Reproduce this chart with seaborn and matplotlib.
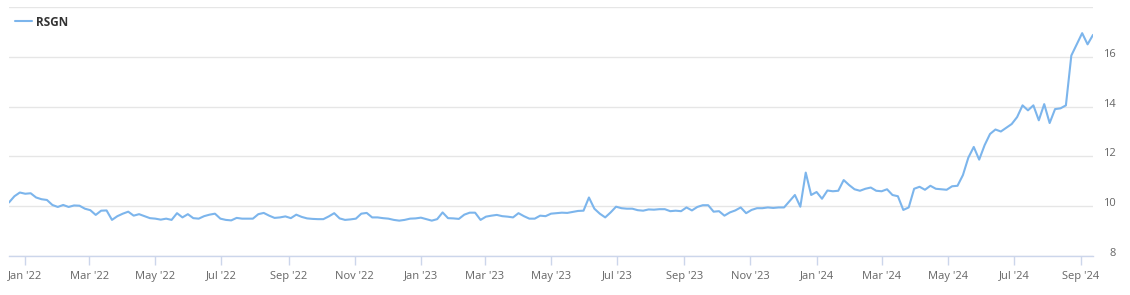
import numpy as np
import pandas as pd
import matplotlib
matplotlib.use("Agg")
import matplotlib.pyplot as plt
import matplotlib.dates as mdates
import matplotlib.transforms as mtransforms
import seaborn as sns

start_date = "2021-12-17"
step_days = 5
series_name = "RSGN"
prices = [
    10.15, 10.4, 10.55, 10.5, 10.52, 10.35, 10.28, 10.25, 10.05, 9.97,
    10.05, 9.97, 10.03, 10.02, 9.9, 9.84, 9.65, 9.82, 9.83, 9.45,
    9.6, 9.7, 9.78, 9.62, 9.68, 9.6, 9.52, 9.5, 9.46, 9.5,
    9.45, 9.72, 9.55, 9.68, 9.52, 9.5, 9.6, 9.66, 9.7, 9.5,
    9.45, 9.43, 9.53, 9.5, 9.5, 9.5, 9.68,
    9.73, 9.62, 9.53, 9.55, 9.59, 9.52, 9.66, 9.57, 9.51, 9.49,
    9.48, 9.48, 9.59, 9.72, 9.51, 9.45, 9.47, 9.5, 9.7, 9.73,
    9.55, 9.55, 9.52, 9.5, 9.45, 9.42, 9.45, 9.5, 9.51, 9.54,
    9.48, 9.42, 9.48, 9.75, 9.52, 9.51, 9.49, 9.66, 9.74, 9.74,
    9.45, 9.58, 9.62, 9.65, 9.6,
    9.58, 9.55, 9.72, 9.6, 9.5, 9.5, 9.62, 9.6, 9.7, 9.72,
    9.74, 9.73, 9.77, 9.81, 9.82, 10.35, 9.9, 9.7, 9.55, 9.75,
    9.98, 9.92, 9.9, 9.9, 9.84, 9.82, 9.87, 9.86, 9.88, 9.88,
    9.8, 9.82, 9.8, 9.95, 9.83, 9.97, 10.04, 10.04, 9.78, 9.8,
    9.62, 9.75, 9.83, 9.95, 9.72, 9.85, 9.92,
    9.92, 9.95, 9.93, 9.95, 9.95, 10.2, 10.45, 9.98, 11.35, 10.45,
    10.57, 10.3, 10.63, 10.6, 10.62, 11.05, 10.85, 10.68, 10.62, 10.7,
    10.75, 10.62, 10.6, 10.68, 10.45, 10.4, 9.85, 9.95, 10.7, 10.78,
    10.66, 10.82, 10.7, 10.68, 10.66, 10.8, 10.82, 11.25, 11.95, 12.38,
    11.87, 12.45, 12.9, 13.08, 13.0, 13.15, 13.3, 13.58, 14.05, 13.85,
    14.05, 13.45, 14.1, 13.34, 13.9, 13.93, 14.05, 16.05, 16.5, 16.95,
    16.5, 16.88,
]
y_ticks = [8, 10, 12, 14, 16, 18]
y_tick_labels = ["8", "10", "12", "14", "16", ""]

dates = pd.date_range(start_date, periods=len(prices), freq=f"{step_days}D")
df = pd.DataFrame({"date": dates, "price": prices, "series": series_name})

# ---- style ----
sns.set_theme(style="white")
plt.rcParams["font.family"] = ["Open Sans", "DejaVu Sans"]

W, H = 1130, 295
fig = plt.figure(figsize=(W / 100, H / 100), dpi=100)
ax = fig.add_axes([9 / W, 1 - 256 / H, (1093 - 9) / W, (256 - 7) / H])

sns.lineplot(data=df, x="date", y="price", hue="series",
             palette=["#7cb5ec"], linewidth=1.5, ax=ax, legend=True)

ax.set_xlim(dates[0], dates[-1])
ax.set_ylim(8, 18)
ax.set_xlabel("")
ax.set_ylabel("")

# gridlines
ax.set_yticks(y_ticks)
ax.set_yticklabels(y_tick_labels)
ax.yaxis.grid(True, color="#e6e6e6", linewidth=1.0)
ax.xaxis.grid(False)
ax.set_axisbelow(True)

for s in ["top", "left", "right"]:
    ax.spines[s].set_visible(False)
ax.spines["bottom"].set_color("#ccd6eb")
ax.spines["bottom"].set_linewidth(1.0)

# x axis
ax.xaxis.set_major_locator(mdates.MonthLocator(bymonth=[1, 3, 5, 7, 9, 11]))
ax.xaxis.set_major_formatter(mdates.DateFormatter("%b '%y"))
ax.tick_params(axis="x", length=6.5, width=1, color="#ccd6eb", pad=4,
               labelsize=8, labelcolor="#666666", bottom=True)

# y axis on the right
ax.yaxis.tick_right()
ax.tick_params(axis="y", length=0, pad=16.5, labelsize=8, labelcolor="#666666")
offset = mtransforms.ScaledTranslation(0, 4 / 100, fig.dpi_scale_trans)
for lab in ax.get_yticklabels():
    lab.set_horizontalalignment("right")
    lab.set_transform(lab.get_transform() + offset)

# legend
leg = ax.legend(loc="center left", bbox_to_anchor=(15 / W, 1 - 22 / H),
                bbox_transform=fig.transFigure, frameon=False,
                handlelength=1.4, handletextpad=0.35, borderpad=0,
                borderaxespad=0, prop={"size": 8.5, "weight": "bold"})
for t in leg.get_texts():
    t.set_color("#333333")
for h in leg.get_lines():
    h.set_linewidth(1.5)

fig.savefig("out.png", dpi=100, facecolor="white")
